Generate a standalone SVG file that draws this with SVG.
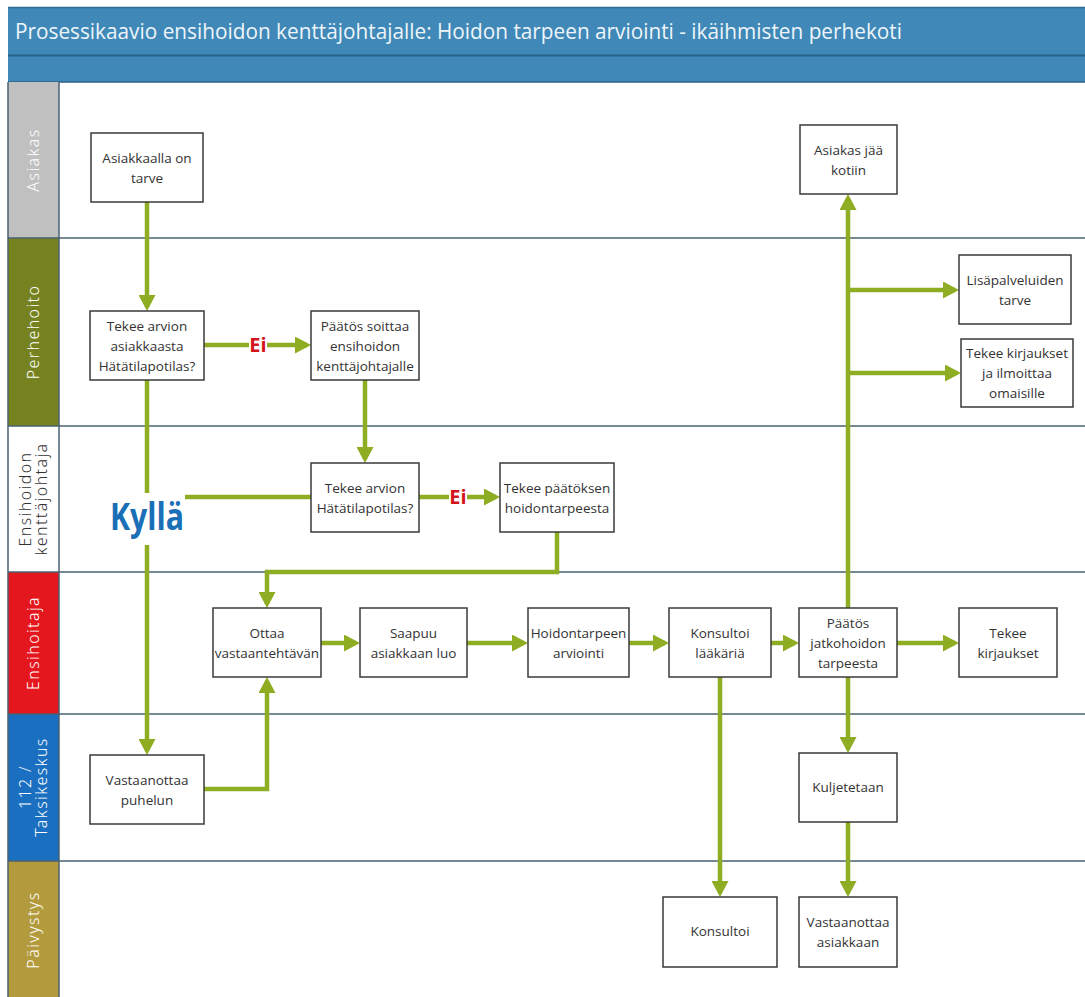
<svg xmlns="http://www.w3.org/2000/svg" width="1085" height="997" viewBox="0 0 1085 997">
<style>
.lane-line{stroke:#4a6270;stroke-width:1.5;fill:none}
.lane-lbl{font-family:"Noto Sans","Open Sans",sans-serif;font-weight:300;font-size:16px;letter-spacing:1.4px;fill:#ffffff;text-anchor:middle}
.box{fill:#ffffff;stroke:#3a3a3a;stroke-width:1.5}
.txt{font-family:"Open Sans","Noto Sans",sans-serif;font-size:13.5px;fill:#333333;text-anchor:middle}
.conn{stroke:#8fad22;stroke-width:4.5;fill:none;stroke-linejoin:miter}
.ei{font-family:"Open Sans","Liberation Sans",sans-serif;font-weight:bold;font-size:20px;fill:#d3141c;text-anchor:middle}
</style>
<defs>
<marker id="arr" markerUnits="userSpaceOnUse" markerWidth="17" markerHeight="17" refX="12" refY="8.5" orient="auto">
<path d="M0,0 L16,8.5 L0,17 z" fill="#8fad22"/>
</marker>
</defs>
<rect x="0" y="0" width="1085" height="997" fill="#ffffff"/>
<!-- header -->
<g id="header">
<rect x="8" y="7" width="1077" height="75" fill="#3f88b7"/>
<line x1="8" y1="7.5" x2="1085" y2="7.5" stroke="#2e6a91" stroke-width="1.5"/>
<line x1="8" y1="55.5" x2="1085" y2="55.5" stroke="#2b6288" stroke-width="2"/>
<line x1="8" y1="82" x2="1085" y2="82" stroke="#2b6288" stroke-width="1.5"/>
<text x="15" y="39" font-family="'Open Sans','Noto Sans',sans-serif" font-size="21" fill="#eef5fa" textLength="887" lengthAdjust="spacingAndGlyphs">Prosessikaavio ensihoidon kenttäjohtajalle: Hoidon tarpeen arviointi - ikäihmisten perhekoti</text>
</g>
<!-- lanes -->
<g id="lanes">
<rect x="8" y="82" width="51" height="156" fill="#c0c0c0"/>
<rect x="8" y="238" width="51" height="188" fill="#76821f"/>
<rect x="8" y="426" width="51" height="146" fill="#ffffff"/>
<rect x="8" y="572" width="51" height="142" fill="#e5171e"/>
<rect x="8" y="714" width="51" height="147" fill="#1b6fc0"/>
<rect x="8" y="861" width="51" height="136" fill="#b39a3c"/>
<line class="lane-line" x1="8" y1="82" x2="8" y2="997"/>
<line class="lane-line" x1="59" y1="82" x2="59" y2="997"/>
<line class="lane-line" x1="8" y1="238" x2="1085" y2="238"/>
<line class="lane-line" x1="8" y1="426" x2="1085" y2="426"/>
<line class="lane-line" x1="8" y1="572" x2="1085" y2="572"/>
<line class="lane-line" x1="8" y1="714" x2="1085" y2="714"/>
<line class="lane-line" x1="8" y1="861" x2="1085" y2="861"/>
<text class="lane-lbl" transform="translate(39,160) rotate(-90)">Asiakas</text>
<text class="lane-lbl" transform="translate(39,332) rotate(-90)">Perhehoito</text>
<text class="lane-lbl" style="fill:#333333" transform="translate(31,499) rotate(-90)">Ensihoidon</text>
<text class="lane-lbl" style="fill:#333333" transform="translate(47,499) rotate(-90)">kenttäjohtaja</text>
<text class="lane-lbl" transform="translate(39,643) rotate(-90)">Ensihoitaja</text>
<text class="lane-lbl" transform="translate(31,787) rotate(-90)">112 /</text>
<text class="lane-lbl" transform="translate(47,787) rotate(-90)">Taksikeskus</text>
<text class="lane-lbl" transform="translate(39,930) rotate(-90)">Päivystys</text>
</g>
<!-- connectors -->
<g id="connectors">
<path class="conn" d="M147,202 V307" marker-end="url(#arr)"/>
<path class="conn" d="M204,345 H307" marker-end="url(#arr)"/>
<path class="conn" d="M365,380 V459" marker-end="url(#arr)"/>
<path class="conn" d="M311,497 H185"/>
<path class="conn" d="M419,497 H496" marker-end="url(#arr)"/>
<path class="conn" d="M557,532 V572 H267 V604" marker-end="url(#arr)"/>
<path class="conn" d="M147,380 V493"/>
<path class="conn" d="M147,545 V751" marker-end="url(#arr)"/>
<path class="conn" d="M204,789 H267 V681" marker-end="url(#arr)"/>
<path class="conn" d="M321,643 H356" marker-end="url(#arr)"/>
<path class="conn" d="M467,643 H524" marker-end="url(#arr)"/>
<path class="conn" d="M629,643 H665" marker-end="url(#arr)"/>
<path class="conn" d="M771,643 H795" marker-end="url(#arr)"/>
<path class="conn" d="M897,643 H955" marker-end="url(#arr)"/>
<path class="conn" d="M720,677 V893" marker-end="url(#arr)"/>
<path class="conn" d="M848,677 V749" marker-end="url(#arr)"/>
<path class="conn" d="M848,822 V893" marker-end="url(#arr)"/>
<path class="conn" d="M848,608 V198" marker-end="url(#arr)"/>
<path class="conn" d="M848,290 H955" marker-end="url(#arr)"/>
<path class="conn" d="M848,373 H957" marker-end="url(#arr)"/>
<rect x="249" y="335" width="18" height="20" fill="#ffffff"/>
<text class="ei" x="258" y="352">Ei</text>
<rect x="449" y="487" width="18" height="20" fill="#ffffff"/>
<text class="ei" x="458" y="504">Ei</text>
<text x="147" y="530" font-family="'Open Sans','Noto Sans',sans-serif" font-weight="bold" font-size="38" fill="#1a6fb6" text-anchor="middle" textLength="74" lengthAdjust="spacingAndGlyphs">Kyllä</text>
</g>
<!-- nodes -->
<g id="n1"><rect class="box" x="91" y="133" width="112" height="69"/><text class="txt" x="147" y="162.5">Asiakkaalla on</text><text class="txt" x="147" y="182.5">tarve</text></g>
<g id="n2"><rect class="box" x="90" y="311" width="114" height="69"/><text class="txt" x="147" y="330.5">Tekee arvion</text><text class="txt" x="147" y="350.5">asiakkaasta</text><text class="txt" x="147" y="370.5">Hätätilapotilas?</text></g>
<g id="n3"><rect class="box" x="311" y="311" width="108" height="69"/><text class="txt" x="365" y="330.5">Päätös soittaa</text><text class="txt" x="365" y="350.5">ensihoidon</text><text class="txt" x="365" y="370.5">kenttäjohtajalle</text></g>
<g id="n4"><rect class="box" x="311" y="463" width="108" height="69"/><text class="txt" x="365" y="492.5">Tekee arvion</text><text class="txt" x="365" y="512.5">Hätätilapotilas?</text></g>
<g id="n5"><rect class="box" x="500" y="463" width="114" height="69"/><text class="txt" x="557" y="492.5">Tekee päätöksen</text><text class="txt" x="557" y="512.5">hoidontarpeesta</text></g>
<g id="n6"><rect class="box" x="213" y="608" width="108" height="69"/><text class="txt" x="267" y="637.5">Ottaa</text><text class="txt" x="267" y="657.5">vastaantehtävän</text></g>
<g id="n7"><rect class="box" x="360" y="608" width="107" height="69"/><text class="txt" x="413.5" y="637.5">Saapuu</text><text class="txt" x="413.5" y="657.5">asiakkaan luo</text></g>
<g id="n8"><rect class="box" x="528" y="608" width="101" height="69"/><text class="txt" x="578.5" y="637.5">Hoidontarpeen</text><text class="txt" x="578.5" y="657.5">arviointi</text></g>
<g id="n9"><rect class="box" x="669" y="608" width="102" height="69"/><text class="txt" x="720" y="637.5">Konsultoi</text><text class="txt" x="720" y="657.5">lääkäriä</text></g>
<g id="n10"><rect class="box" x="799" y="608" width="98" height="69"/><text class="txt" x="848" y="627.5">Päätös</text><text class="txt" x="848" y="647.5">jatkohoidon</text><text class="txt" x="848" y="667.5">tarpeesta</text></g>
<g id="n11"><rect class="box" x="959" y="608" width="98" height="69"/><text class="txt" x="1008" y="637.5">Tekee</text><text class="txt" x="1008" y="657.5">kirjaukset</text></g>
<g id="n12"><rect class="box" x="800" y="125" width="97" height="69"/><text class="txt" x="848.5" y="154.5">Asiakas jää</text><text class="txt" x="848.5" y="174.5">kotiin</text></g>
<g id="n13"><rect class="box" x="959" y="255" width="112" height="69"/><text class="txt" x="1015" y="284.5">Lisäpalveluiden</text><text class="txt" x="1015" y="304.5">tarve</text></g>
<g id="n14"><rect class="box" x="961" y="339" width="112" height="68"/><text class="txt" x="1017" y="358">Tekee kirjaukset</text><text class="txt" x="1017" y="378">ja ilmoittaa</text><text class="txt" x="1017" y="398">omaisille</text></g>
<g id="n15"><rect class="box" x="90" y="755" width="114" height="69"/><text class="txt" x="147" y="784.5">Vastaanottaa</text><text class="txt" x="147" y="804.5">puhelun</text></g>
<g id="n16"><rect class="box" x="799" y="753" width="98" height="69"/><text class="txt" x="848" y="792">Kuljetetaan</text></g>
<g id="n17"><rect class="box" x="663" y="897" width="114" height="70"/><text class="txt" x="720" y="936">Konsultoi</text></g>
<g id="n18"><rect class="box" x="799" y="897" width="98" height="70"/><text class="txt" x="848" y="927">Vastaanottaa</text><text class="txt" x="848" y="947">asiakkaan</text></g>
</svg>
